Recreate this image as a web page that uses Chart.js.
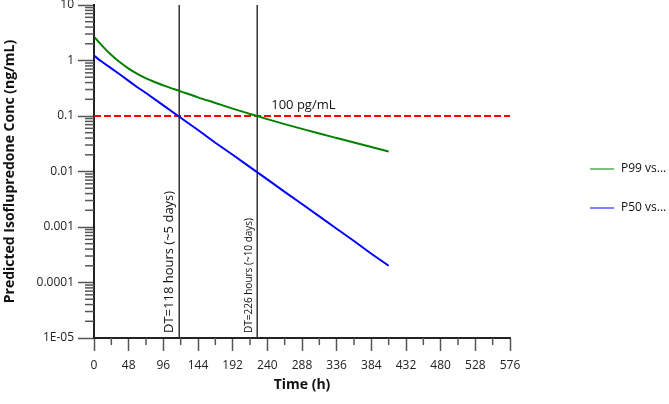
<!DOCTYPE html>
<html>
<head>
<meta charset="utf-8">
<script src="https://cdn.jsdelivr.net/npm/chart.js@4.4.1/dist/chart.umd.min.js"></script>
<style>
  html, body { margin: 0; padding: 0; background: #fff; }
</style>
</head>
<body>
<canvas id="chart" width="669" height="404"></canvas>
<script>
// data
const times = [1, 6, 12, 24, 36, 48, 60, 72, 96, 120, 144, 168, 192, 216, 240, 264, 288, 312, 336, 360, 384, 408];
const p99 = [2.6, 2.19, 1.80, 1.26, 0.929, 0.714, 0.573, 0.476, 0.357, 0.278, 0.217, 0.172, 0.136, 0.109, 0.0877, 0.0714, 0.0586, 0.0483, 0.040, 0.0332, 0.0276, 0.023];
const p50 = [1.2, 1.06, 0.93, 0.72, 0.56, 0.43, 0.33, 0.26, 0.155, 0.093, 0.056, 0.033, 0.020, 0.012, 0.0072, 0.0043, 0.0026, 0.00155, 0.00093, 0.00056, 0.00033, 0.0002];
const seriesNames = ['P99 vs...', 'P50 vs...'];
const seriesColors = ['#008000', '#0000ff'];
const legendColors = ['rgba(0,128,0,0.5)', 'rgba(0,0,255,0.5)'];

const xTicks = [0, 24, 48, 72, 96, 120, 144, 168, 192, 216, 240, 264, 288, 312, 336, 360, 384, 408, 432, 456, 480, 504, 528, 552, 576];
const xTickLabels = ['0', '48', '96', '144', '192', '240', '288', '336', '384', '432', '480', '528', '576'];
const yMajor = [1e-5, 1e-4, 1e-3, 1e-2, 0.1, 1, 10];
const yTickLabels = ['1E-05', '0.0001', '0.001', '0.01', '0.1', '1', '10'];

const threshold = 0.1;
const thresholdLabel = '100 pg/mL';
const dtTimes = [118, 226];
const dtLabels = ['DT=118 hours (~5 days)', 'DT=226 hours (~10 days)'];

const FONT = "'Open Sans', 'Noto Sans', sans-serif";

// minor log ticks 2..9 in every decade
const yTicks = [];
yMajor.forEach((v, i) => {
  yTicks.push(v);
  if (i < yMajor.length - 1) {
    for (let m = 2; m < 10; m++) yTicks.push(+(v * m).toPrecision(3));
  }
});
const isMajorY = v => yMajor.some(m => Math.abs(m - v) / m < 1e-6);

function pts(xs, ys) {
  return xs.map((t, i) => ({ x: t, y: ys[i] }));
}

const datasets = [
  {
    label: seriesNames[0],
    data: pts(times, p99),
    borderColor: seriesColors[0],
    borderWidth: 2,
    pointRadius: 0,
    cubicInterpolationMode: 'monotone'
  },
  {
    label: seriesNames[1],
    data: pts(times, p50),
    borderColor: seriesColors[1],
    borderWidth: 2,
    pointRadius: 0
  },
  {
    label: 'threshold',
    data: [{ x: 0, y: threshold }, { x: 576, y: threshold }],
    borderColor: '#ff0000',
    borderWidth: 2,
    borderDash: [7, 3],
    pointRadius: 0
  }
];
dtTimes.forEach(t => {
  datasets.push({
    label: 'DT',
    data: [{ x: t, y: 1e-5 }, { x: t, y: 10 }],
    borderColor: '#333',
    borderWidth: 1.5,
    pointRadius: 0
  });
});

function line(ctx, x1, y1, x2, y2) {
  ctx.beginPath();
  ctx.moveTo(x1, y1);
  ctx.lineTo(x2, y2);
  ctx.stroke();
}

// minor ticks, annotations and legend
const extras = {
  id: 'extras',
  afterDraw(chart) {
    const { ctx, scales: { x, y }, chartArea } = chart;
    ctx.save();
    ctx.strokeStyle = '#555';
    ctx.lineWidth = 1.5;
    y.ticks.forEach(t => {
      if (!isMajorY(t.value)) {
        const py = y.getPixelForValue(t.value);
        line(ctx, y.right - 9, py, y.right, py);
      }
    });
    x.ticks.forEach(t => {
      if (t.value % 48 !== 0) {
        const px = x.getPixelForValue(t.value);
        line(ctx, px, x.top, px, x.top + 7);
      }
    });

    ctx.fillStyle = '#111';
    ctx.font = '13px ' + FONT;
    ctx.textAlign = 'left';
    ctx.textBaseline = 'middle';
    ctx.fillText(thresholdLabel, x.getPixelForValue(dtTimes[1]) + 14, y.getPixelForValue(threshold) - 11);

    const sizes = [13, 10];
    const offs = [10, 8];
    dtTimes.forEach((t, i) => {
      ctx.save();
      ctx.translate(x.getPixelForValue(t) - offs[i], chartArea.bottom - 5);
      ctx.rotate(-Math.PI / 2);
      ctx.font = sizes[i] + 'px ' + FONT;
      ctx.fillText(dtLabels[i], 0, 0);
      ctx.restore();
    });

    // legend
    ctx.font = '12px ' + FONT;
    seriesNames.forEach((name, i) => {
      const ly = 169 + i * 39;
      const lx = chartArea.right + 80;
      ctx.strokeStyle = legendColors[i];
      ctx.lineWidth = 2;
      line(ctx, lx, ly, lx + 24, ly);
      ctx.fillStyle = '#111';
      ctx.fillText(name, lx + 31, ly);
    });
    ctx.restore();
  }
};

new Chart(document.getElementById('chart').getContext('2d'), {
  type: 'line',
  data: { datasets },
  options: {
    responsive: false,
    animation: false,
    layout: { padding: { left: 0, top: 5, right: 159, bottom: 0 } },
    plugins: { legend: { display: false }, tooltip: { enabled: false } },
    scales: {
      x: {
        type: 'linear',
        min: 0,
        max: 576,
        afterBuildTicks: s => { s.ticks = xTicks.map(v => ({ value: v })); },
        afterFit: s => { s.height = 66; s.paddingLeft = 0; s.paddingRight = 0; },
        ticks: {
          autoSkip: false,
          maxRotation: 0,
          padding: 7,
          color: '#222',
          font: { family: FONT, size: 12 },
          callback: v => (v % 48 === 0 ? xTickLabels[v / 48] : '')
        },
        grid: {
          drawOnChartArea: false,
          tickLength: 13,
          tickWidth: 1.5,
          tickColor: c => (c.tick && c.tick.value % 48 === 0 ? '#555' : 'rgba(0,0,0,0)')
        },
        border: { color: '#222', width: 2 },
        title: {
          display: true,
          text: 'Time (h)',
          color: '#111',
          font: { family: FONT, size: 14, weight: 'bold' },
          padding: { top: 0, bottom: 11 }
        }
      },
      y: {
        type: 'logarithmic',
        min: 1e-5,
        max: 10,
        afterBuildTicks: s => { s.ticks = yTicks.map(v => ({ value: v, major: isMajorY(v) })); },
        afterFit: s => { s.width = 94; s.paddingTop = 0; s.paddingBottom = 0; },
        ticks: {
          autoSkip: false,
          padding: 4,
          color: '#222',
          font: { family: FONT, size: 12 },
          callback: v => {
            const i = yMajor.findIndex(m => Math.abs(m - v) / m < 1e-6);
            return i >= 0 ? yTickLabels[i] : '';
          }
        },
        grid: {
          drawOnChartArea: false,
          tickLength: 16,
          tickWidth: 1.5,
          tickColor: c => (c.tick && isMajorY(c.tick.value) ? '#555' : 'rgba(0,0,0,0)')
        },
        border: { color: '#222', width: 2 },
        title: {
          display: true,
          text: 'Predicted Isoflupredone Conc (ng/mL)',
          color: '#111',
          font: { family: FONT, size: 14, weight: 'bold' },
          padding: { top: 2, bottom: 0 }
        }
      }
    }
  },
  plugins: [extras]
});
</script>
</body>
</html>
